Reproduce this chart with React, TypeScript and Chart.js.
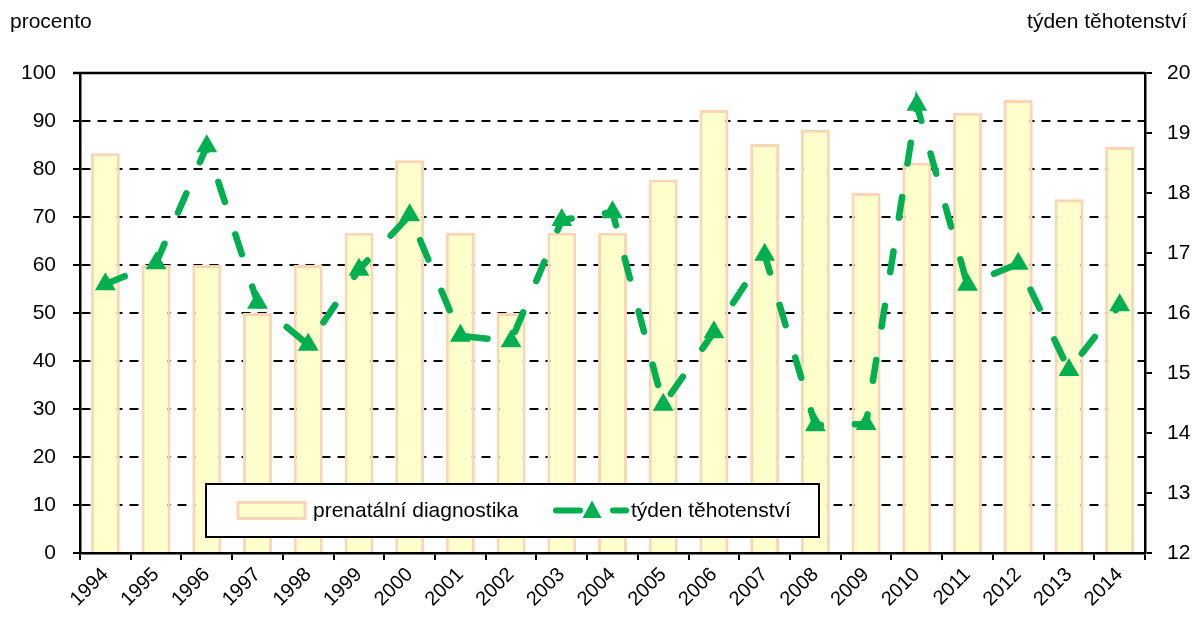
import React, { useEffect, useRef } from "react";
import { Chart, registerables } from "chart.js";

Chart.register(...registerables);

const years = ["1994", "1995", "1996", "1997", "1998", "1999", "2000", "2001", "2002", "2003", "2004", "2005", "2006", "2007", "2008", "2009", "2010", "2011", "2012", "2013", "2014"];
const prenatalni = [83.3, 60, 60, 50, 60, 66.7, 81.8, 66.7, 50, 66.7, 66.7, 77.8, 92.3, 85.2, 88.2, 75, 81.3, 91.7, 94.4, 73.7, 84.6];
const tyden = [16.48, 16.83, 18.78, 16.17, 15.47, 16.72, 17.63, 15.62, 15.53, 17.55, 17.68, 14.47, 15.68, 16.97, 14.13, 14.15, 19.47, 16.47, 16.82, 15.05, 16.13];
const leftRange = [0, 100, 10];
const rightRange = [12, 20, 1];
const leftTitle = "procento";
const rightTitle = "týden těhotenství";
const barLabel = "prenatální diagnostika";
const lineLabel = "týden těhotenství";

const FONT = "'Liberation Sans', Arial, sans-serif";
const GREEN = "#00B050";
const BAR_FILL = "#FFFFCC";
const BAR_BORDER = "#FCD5B5";

const decorPlugin = {
  id: "decor",
  afterDraw(chart: any) {
    const { ctx, chartArea } = chart;
    ctx.save();
    // top solid line
    ctx.strokeStyle = "#000";
    ctx.lineWidth = 2.5;
    ctx.beginPath();
    ctx.moveTo(chartArea.left - 7, chartArea.top);
    ctx.lineTo(chartArea.right, chartArea.top);
    ctx.stroke();

    // titles
    ctx.fillStyle = "#000";
    ctx.font = `21px ${FONT}`;
    ctx.textBaseline = "middle";
    ctx.textAlign = "left";
    ctx.fillText(leftTitle, 10, 22);
    ctx.textAlign = "right";
    ctx.fillText(rightTitle, 1187, 22);

    // legend box
    const bx = 206, by = 484, bw = 613, bh = 53;
    ctx.fillStyle = "#fff";
    ctx.fillRect(bx, by, bw, bh);
    ctx.strokeStyle = "#000";
    ctx.lineWidth = 2;
    ctx.strokeRect(bx, by, bw, bh);
    const cy = by + bh / 2;
    // bar sample
    ctx.fillStyle = BAR_FILL;
    ctx.fillRect(238, cy - 8, 67, 16);
    ctx.strokeStyle = BAR_BORDER;
    ctx.lineWidth = 3;
    ctx.strokeRect(238, cy - 8, 67, 16);
    ctx.fillStyle = "#000";
    ctx.font = `21px ${FONT}`;
    ctx.textAlign = "left";
    ctx.textBaseline = "middle";
    ctx.fillText(barLabel, 313, cy + 1);
    // line sample
    ctx.strokeStyle = GREEN;
    ctx.lineWidth = 6;
    ctx.lineCap = "round";
    ctx.beginPath();
    ctx.moveTo(556, cy);
    ctx.lineTo(580, cy);
    ctx.moveTo(613, cy);
    ctx.lineTo(626, cy);
    ctx.stroke();
    ctx.fillStyle = GREEN;
    ctx.beginPath();
    const tx = 592, r = 10;
    ctx.moveTo(tx, cy - r);
    ctx.lineTo(tx + r * 0.95, cy + r * 0.75);
    ctx.lineTo(tx - r * 0.95, cy + r * 0.75);
    ctx.closePath();
    ctx.fill();
    ctx.fillStyle = "#000";
    ctx.fillText(lineLabel, 631, cy + 1);
    ctx.restore();
  },
};

export default function App() {
  const ref = useRef<HTMLCanvasElement>(null);
  useEffect(() => {
    const canvas = ref.current!;
    const chart = new Chart(canvas, {
      type: "bar",
      data: {
        labels: years,
        datasets: [
          {
            type: "line",
            label: lineLabel,
            data: tyden,
            yAxisID: "y1",
            borderColor: GREEN,
            backgroundColor: GREEN,
            borderWidth: 6.5,
            borderDash: [21, 34],
            borderCapStyle: "round",
            pointStyle: "triangle",
            pointRadius: 12,
            pointBorderWidth: 0,
            pointBackgroundColor: GREEN,
            tension: 0,
            order: 0,
          } as any,
          {
            type: "bar",
            label: barLabel,
            data: prenatalni,
            yAxisID: "y",
            backgroundColor: BAR_FILL,
            borderColor: BAR_BORDER,
            borderWidth: 3,
            barPercentage: 0.57,
            categoryPercentage: 1,
            order: 1,
          },
        ],
      },
      options: {
        responsive: false,
        animation: false,
        layout: { padding: { top: 73, left: 0, right: 0, bottom: 0 } },
        plugins: { legend: { display: false }, tooltip: { enabled: false } },
        scales: {
          x: {
            offset: true,
            grid: {
              offset: true,
              drawOnChartArea: false,
              drawTicks: true,
              tickLength: 7,
              color: "#000",
              lineWidth: 2,
            },
            border: { display: true, color: "#000", width: 2.5, z: 1 },
            ticks: {
              color: "#000",
              font: { family: FONT, size: 20 },
              maxRotation: 45,
              minRotation: 45,
              padding: 3,
              autoSkip: false,
            },
            afterFit: (s: any) => {
              s.height = 66;
            },
          },
          y: {
            position: "left",
            min: leftRange[0],
            max: leftRange[1],
            grid: {
              color: "#000",
              lineWidth: 2,
              drawTicks: true,
              tickLength: 7,
              tickBorderDash: [],
            },
            border: { display: true, color: "#000", width: 2.5, dash: [9, 7], z: 1 },
            ticks: {
              stepSize: leftRange[2],
              color: "#000",
              font: { family: FONT, size: 21 },
              padding: 17,
            },
            afterFit: (s: any) => {
              s.width = 80;
            },
          },
          y1: {
            position: "right",
            min: rightRange[0],
            max: rightRange[1],
            grid: {
              drawOnChartArea: false,
              color: "#000",
              lineWidth: 2,
              drawTicks: true,
              tickLength: 7,
            },
            border: { display: true, color: "#000", width: 2.5, z: 1 },
            ticks: {
              stepSize: rightRange[2],
              color: "#000",
              font: { family: FONT, size: 21 },
              padding: 15,
            },
            afterFit: (s: any) => {
              s.width = 50;
            },
          },
        },
      },
      plugins: [decorPlugin],
    });
    return () => chart.destroy();
  }, []);
  return (
    <div style={{ position: "fixed", left: 0, top: 0, width: 1195, height: 619, background: "#fff" }}>
      <canvas ref={ref} width={1195} height={619} style={{ display: "block" }} />
    </div>
  );
}
